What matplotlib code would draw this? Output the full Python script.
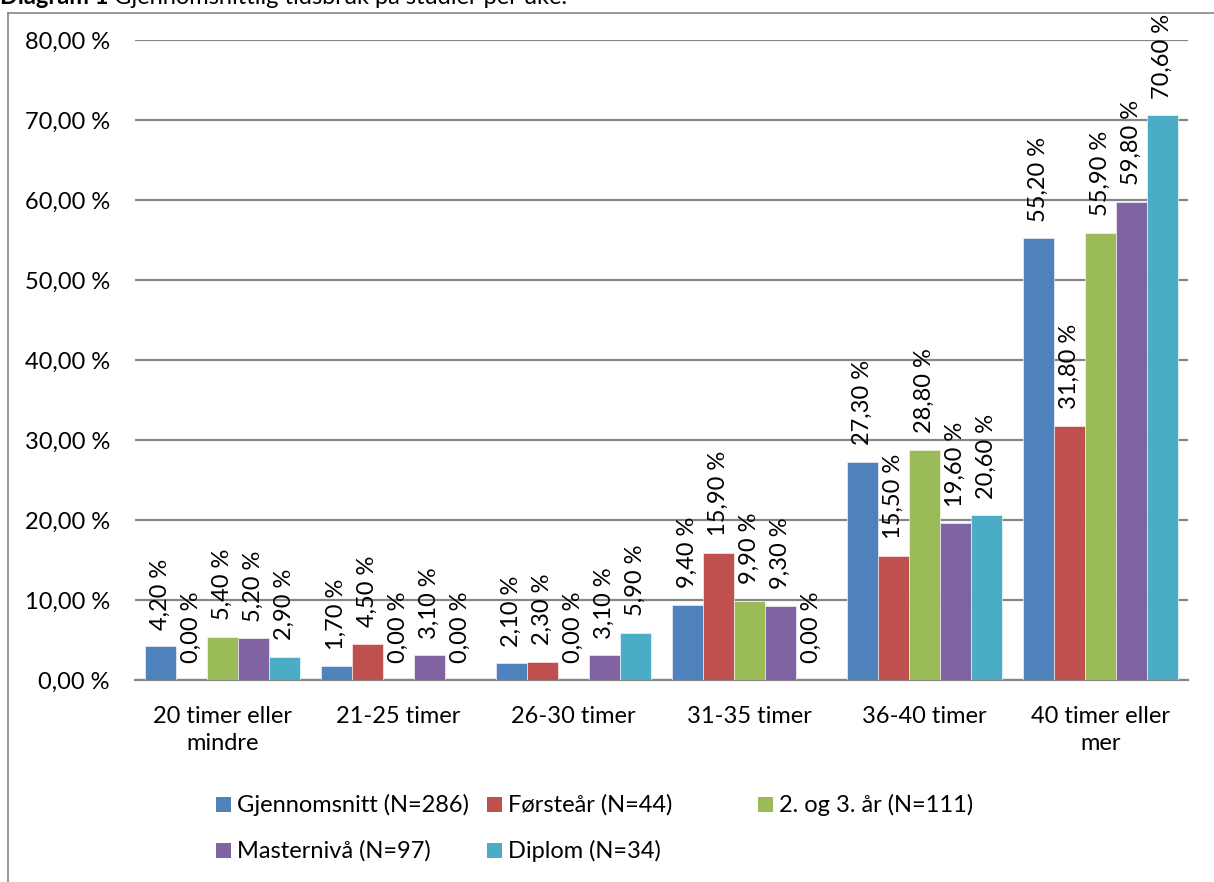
import matplotlib
matplotlib.use('Agg')
import matplotlib.pyplot as plt
from matplotlib.lines import Line2D
from matplotlib.patches import Rectangle
import numpy as np

plt.rcParams['font.family'] = ['Lato', 'DejaVu Sans']

# Data
categories = ['20 timer eller\nmindre', '21-25 timer', '26-30 timer',
              '31-35 timer', '36-40 timer', '40 timer eller\nmer']
series = ['Gjennomsnitt (N=286)', 'Førsteår (N=44)', '2. og 3. år (N=111)',
          'Masternivå (N=97)', 'Diplom (N=34)']
gjennomsnitt = [4.2, 1.7, 2.1, 9.4, 27.3, 55.2]
forsteaar = [0.0, 4.5, 2.3, 15.9, 15.5, 31.8]
andre_tredje = [5.4, 0.0, 0.0, 9.9, 28.8, 55.9]
masterniva = [5.2, 3.1, 3.1, 9.3, 19.6, 59.8]
diplom = [2.9, 0.0, 5.9, 0.0, 20.6, 70.6]
values = [gjennomsnitt, forsteaar, andre_tredje, masterniva, diplom]
colors = ['#4F81BD', '#C0504D', '#9BBB59', '#8064A2', '#4BACC6']
yticks = [0, 10, 20, 30, 40, 50, 60, 70, 80]

W, H = 1214, 882
fig = plt.figure(figsize=(W / 100, H / 100), dpi=100)
ax = fig.add_axes([135 / W, (H - 680) / H, (1188 - 135) / W, 640 / H])

fs = 17
x = np.arange(len(categories))
bw = 0.1766
for i, (name, vals) in enumerate(zip(series, values)):
    pos = x + (i - 2) * bw
    ax.bar(pos, vals, width=bw, color=colors[i], edgecolor='white',
           linewidth=0.4, zorder=3, label=name)
    for xp, v in zip(pos, vals):
        ax.annotate(f'{v:.2f} %'.replace('.', ','), (xp, v),
                    xytext=(0, 12), textcoords='offset points',
                    rotation=90, ha='center', va='bottom', fontsize=fs)

ax.set_xlim(-0.5, len(categories) - 0.5)
ax.set_ylim(0, 80)
ax.set_yticks(yticks)
ax.set_yticklabels([f'{t:.2f} %'.replace('.', ',') for t in yticks], fontsize=fs)
ax.set_xticks(x)
ax.set_xticklabels(categories, fontsize=fs, linespacing=1.35)
ax.tick_params(axis='both', length=0)
ax.tick_params(axis='y', pad=18)
ax.tick_params(axis='x', pad=19)
ax.grid(axis='y', color='#868686', linewidth=1.6, zorder=0)
for s in ['top', 'right', 'left']:
    ax.spines[s].set_visible(False)
ax.spines['bottom'].set_color('#868686')
ax.spines['bottom'].set_linewidth(1.6)

# Legend placed like the original (3 slots in first row, 2 in second)
slots = [(216, 805), (487, 805), (758, 805), (216, 851), (487, 851)]
for (lx, ly), name, c in zip(slots, series, colors):
    fig.patches.append(Rectangle((lx / W, 1 - (ly + 7) / H), 15 / W, 15 / H,
                                 transform=fig.transFigure, facecolor=c,
                                 edgecolor='none'))
    fig.text((lx + 21) / W, 1 - ly / H, name, fontsize=fs, va='center', ha='left')

# Frame around the chart
fig.add_artist(Line2D([8 / W, 8 / W], [0, 1 - 13 / H], color='#868686',
                      linewidth=1.2, transform=fig.transFigure))
fig.add_artist(Line2D([8 / W, 1], [1 - 13 / H, 1 - 13 / H], color='#868686',
                      linewidth=1.2, transform=fig.transFigure))

# Title (cut off at the top like the source)
t1 = fig.text(0, 1 - 4 / H, 'Diagram 1', fontsize=fs, fontweight='bold',
              va='baseline', ha='left')
fig.canvas.draw()
bb = t1.get_window_extent()
fig.text((bb.x1 + 6) / W, 1 - 4 / H,
         'Gjennomsnittlig tidsbruk på studier per uke.', fontsize=fs,
         va='baseline', ha='left')

fig.savefig('out.png', dpi=100)
